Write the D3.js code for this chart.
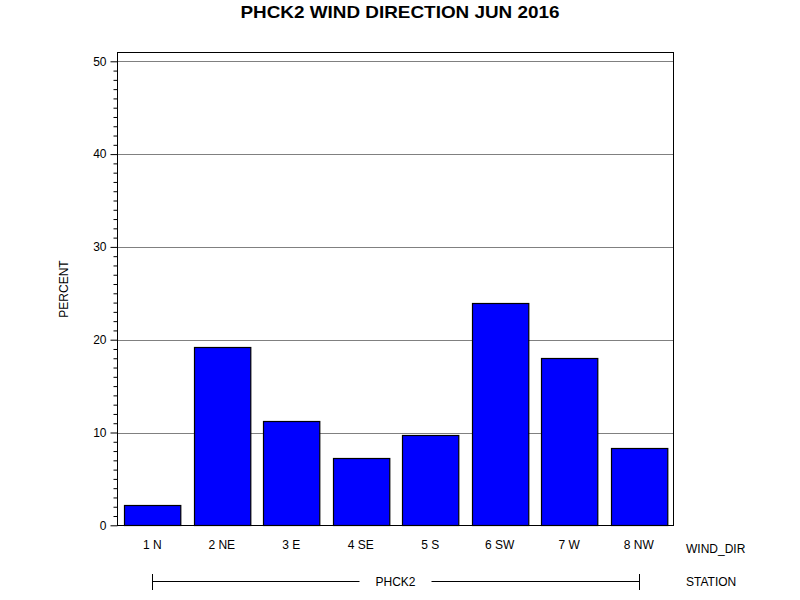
<!DOCTYPE html>
<html>
<head>
<meta charset="utf-8">
<script src="https://cdn.jsdelivr.net/npm/d3@7"></script>
<style>
  body { margin: 0; background: #fff; }
  text { font-family: "Liberation Sans", Arial, sans-serif; }
</style>
</head>
<body>
<svg width="800" height="600"></svg>
<script>
// data
const windDirs = ['1 N', '2 NE', '3 E', '4 SE', '5 S', '6 SW', '7 W', '8 NW']
const percents = [2.15, 19.2, 11.2, 7.25, 9.7, 24.0, 18.0, 8.3]
const yTicks = [0, 10, 20, 30, 40, 50]
const stationName = 'PHCK2'

const svg = d3.select('svg')
const plotLeft = 117.5, plotRight = 673.5, plotTop = 52.5, plotBottom = 525.5

const xScale = d3.scaleBand()
    .domain(windDirs)
    .range([plotLeft, plotRight])
    .paddingInner(0.19)
    .paddingOuter(0.095)

const yScale = d3.scaleLinear()
    .domain([0, 50])
    .range([525.3, 61.3])

// title
svg.append('text')
    .attr('x', 400).attr('y', 18)
    .attr('text-anchor', 'middle')
    .attr('textLength', 319)
    .attr('lengthAdjust', 'spacingAndGlyphs')
    .style('font-size', '17px')
    .style('font-weight', 'bold')
    .text('PHCK2 WIND DIRECTION JUN 2016')

// grid lines
svg.append('g')
    .selectAll('line')
    .data(yTicks.filter(d => d > 0))
    .enter()
    .append('line')
    .attr('x1', plotLeft).attr('x2', plotRight)
    .attr('y1', d => Math.round(yScale(d)) + 0.5)
    .attr('y2', d => Math.round(yScale(d)) + 0.5)
    .attr('stroke', '#808080')

// bars
svg.append('g')
    .selectAll('rect')
    .data(percents)
    .enter()
    .append('rect')
    .attr('x', (d, i) => Math.round(xScale(windDirs[i])) + 0.5)
    .attr('y', d => Math.round(yScale(d)) + 0.5)
    .attr('width', xScale.bandwidth())
    .attr('height', d => Math.round(yScale(0)) - Math.round(yScale(d)))
    .attr('fill', '#0000ff')
    .attr('stroke', '#000')
    .attr('stroke-width', 1.2)

// frame
svg.append('rect')
    .attr('x', plotLeft).attr('y', plotTop)
    .attr('width', plotRight - plotLeft).attr('height', plotBottom - plotTop)
    .attr('fill', 'none')
    .attr('stroke', '#000')

// y axis with minor ticks
const yAxis = d3.axisLeft(yScale)
    .tickValues(yTicks)
    .tickSize(7)
    .tickPadding(4)
const yMinor = d3.axisLeft(yScale)
    .tickValues(d3.range(0, 51).filter(d => d % 10 !== 0))
    .tickSize(4)
    .tickFormat('')

svg.append('g')
    .attr('transform', 'translate(' + plotLeft + ',0)')
    .call(yMinor)
    .call(g => g.select('.domain').remove())
svg.append('g')
    .attr('class', 'y-axis')
    .attr('transform', 'translate(' + plotLeft + ',0)')
    .call(yAxis)
    .call(g => g.select('.domain').remove())
    .call(g => g.selectAll('text').style('font-size', '12px').attr('fill', '#000'))

svg.append('text')
    .attr('transform', 'translate(68,289) rotate(-90)')
    .attr('text-anchor', 'middle')
    .style('font-size', '12px')
    .text('PERCENT')

// x axis labels (no ticks)
const xAxis = d3.axisBottom(xScale).tickSize(0).tickPadding(15)
svg.append('g')
    .attr('transform', 'translate(0,' + plotBottom + ')')
    .call(xAxis)
    .call(g => g.select('.domain').remove())
    .call(g => g.selectAll('text').style('font-size', '12px').attr('fill', '#000'))

svg.append('text')
    .attr('x', 686).attr('y', 553)
    .style('font-size', '12px')
    .text('WIND_DIR')

// station group line
const x0 = xScale(windDirs[0]) + xScale.bandwidth() / 2
const x1 = xScale(windDirs[windDirs.length - 1]) + xScale.bandwidth() / 2
const midX = (x0 + x1) / 2
const lineY = 581.5
const station = svg.append('g')
station.append('line')
    .attr('x1', Math.round(x0) + 0.5).attr('x2', midX - 36)
    .attr('y1', lineY).attr('y2', lineY)
    .attr('stroke', '#000')
station.append('line')
    .attr('x1', midX + 36).attr('x2', Math.round(x1) + 0.5)
    .attr('y1', lineY).attr('y2', lineY)
    .attr('stroke', '#000')
station.selectAll('.end')
    .data([x0, x1])
    .enter()
    .append('line')
    .attr('x1', d => Math.round(d) + 0.5).attr('x2', d => Math.round(d) + 0.5)
    .attr('y1', 574).attr('y2', 590)
    .attr('stroke', '#000')
station.append('text')
    .attr('x', midX).attr('y', 586)
    .attr('text-anchor', 'middle')
    .style('font-size', '12px')
    .text(stationName)

svg.append('text')
    .attr('x', 686).attr('y', 586)
    .style('font-size', '12px')
    .text('STATION')
</script>
</body>
</html>
